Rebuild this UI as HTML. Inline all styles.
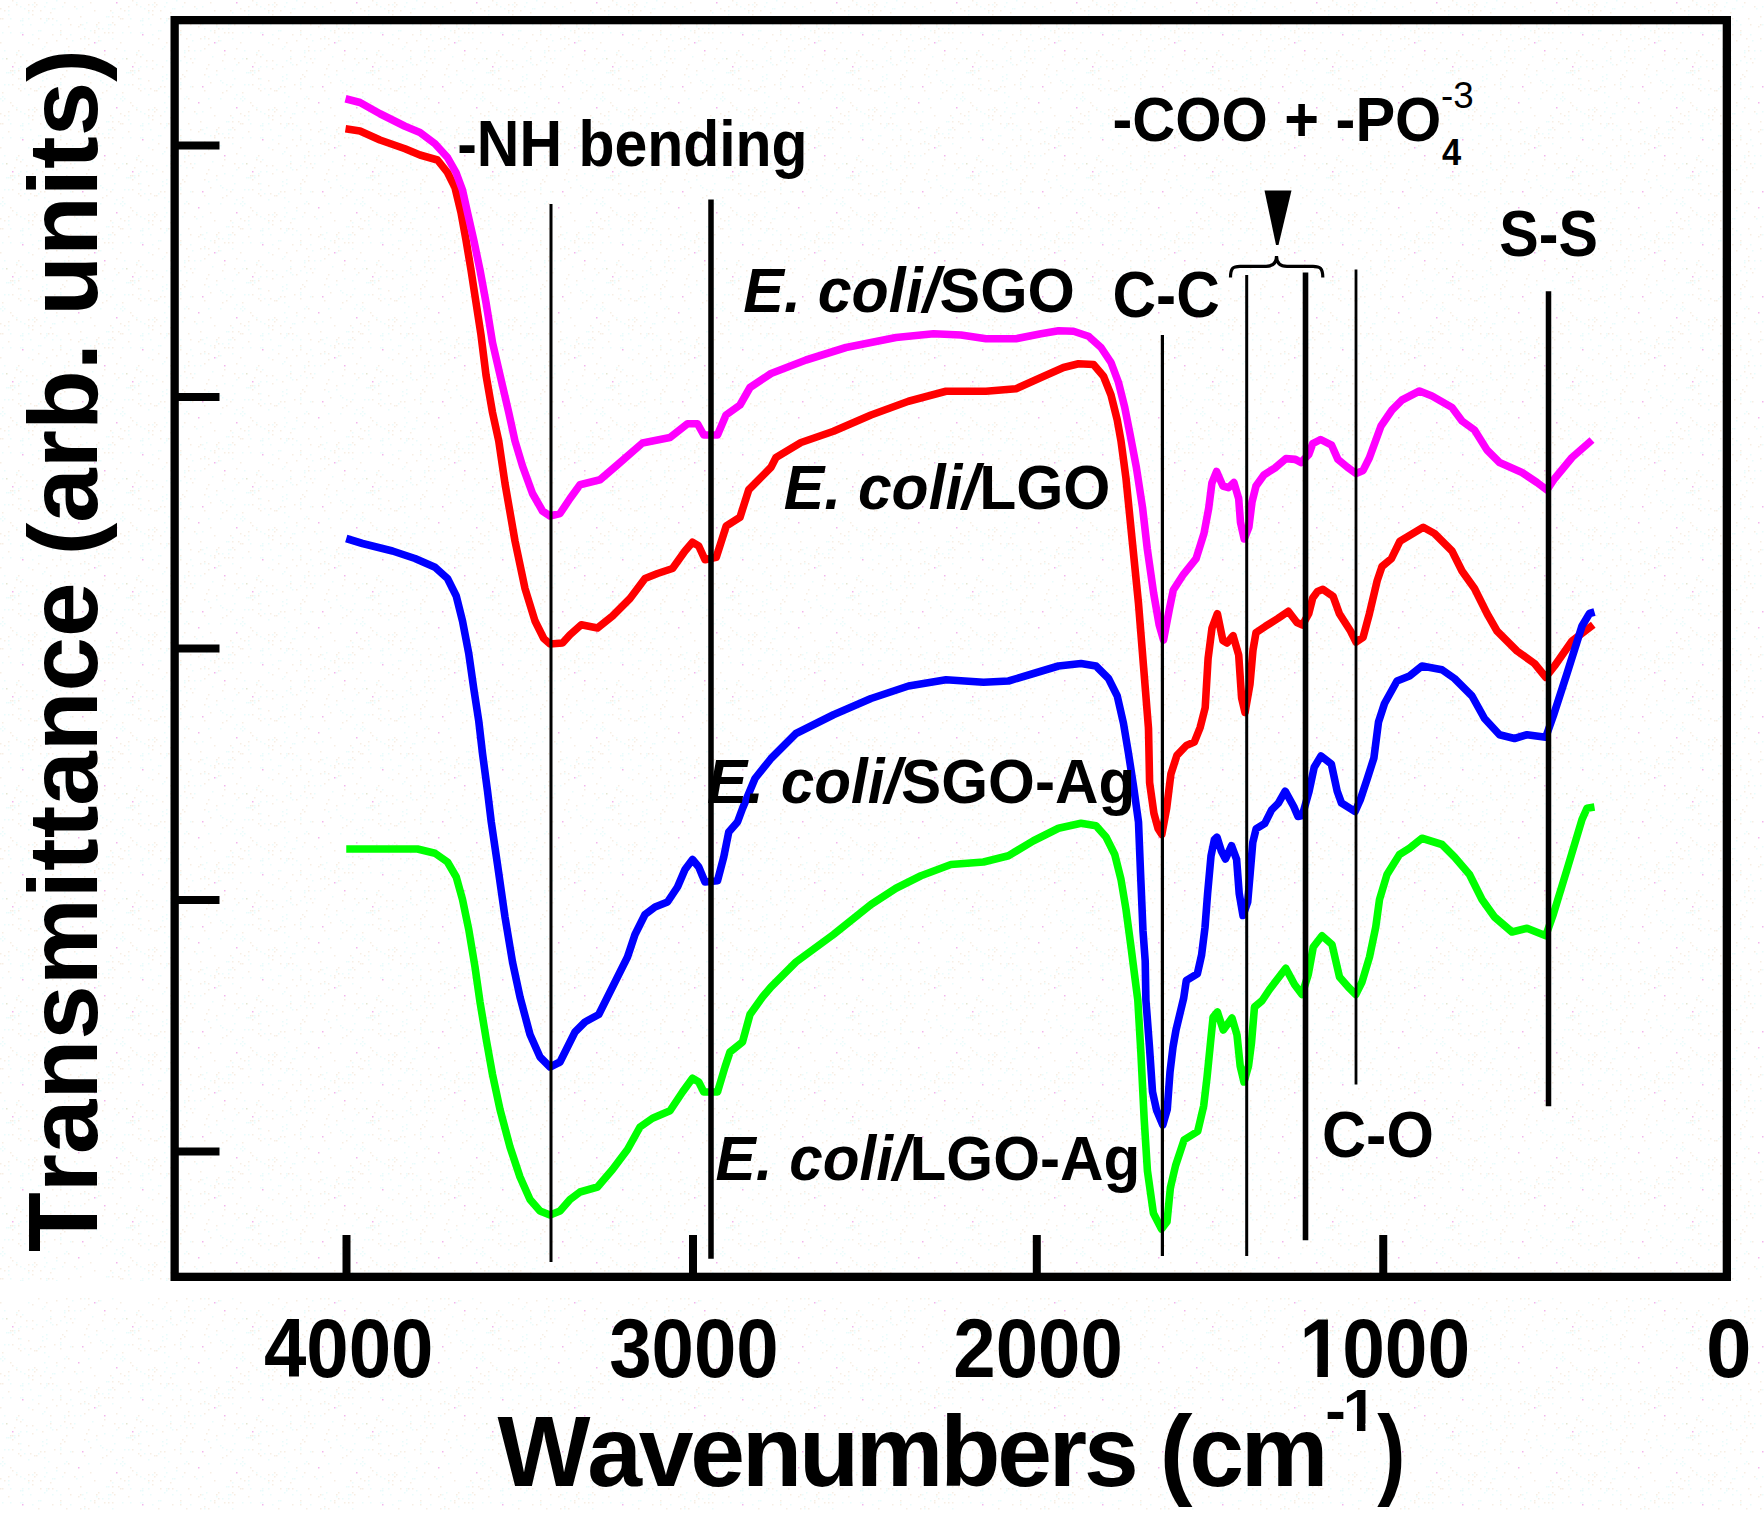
<!DOCTYPE html>
<html lang="en"><head><meta charset="utf-8"><title>FTIR spectra</title>
<style>html,body{margin:0;padding:0;background:#fff;}body{width:1764px;height:1524px;overflow:hidden;}svg{display:block;}text{font-family:'Liberation Sans', Arial, Helvetica, sans-serif;fill:#000;font-kerning:none;}.b{font-weight:bold;}.bi{font-weight:bold;font-style:italic;}</style></head><body>
<svg width="1764" height="1524" viewBox="0 0 1764 1524">
<defs><pattern id="dither" width="120" height="105" patternUnits="userSpaceOnUse"><rect x="40" y="18" width="1.5" height="1.5" fill="#f7eee3"/><rect x="82" y="6" width="1.5" height="1.5" fill="#e9fcfc"/><rect x="104" y="68" width="1.5" height="1.5" fill="#e9fcfc"/><rect x="46" y="74" width="1.5" height="1.5" fill="#e9fcfc"/><rect x="116" y="64" width="1.5" height="1.5" fill="#e9fcfc"/><rect x="4" y="10" width="1.5" height="1.5" fill="#f7eee3"/><rect x="52" y="8" width="1.5" height="1.5" fill="#e9fcfc"/><rect x="10" y="70" width="1.5" height="1.5" fill="#f7eee3"/><rect x="6" y="72" width="1.5" height="1.5" fill="#e9fcfc"/><rect x="28" y="80" width="1.5" height="1.5" fill="#f7eee3"/><rect x="74" y="6" width="1.5" height="1.5" fill="#f7eee3"/><rect x="74" y="50" width="1.5" height="1.5" fill="#e9fcfc"/><rect x="28" y="4" width="1.5" height="1.5" fill="#f7eee3"/><rect x="108" y="16" width="1.5" height="1.5" fill="#e9fcfc"/><rect x="52" y="18" width="1.5" height="1.5" fill="#f7eee3"/><rect x="14" y="72" width="1.5" height="1.5" fill="#e9fcfc"/><rect x="70" y="86" width="1.5" height="1.5" fill="#e9fcfc"/><rect x="12" y="74" width="1.5" height="1.5" fill="#f7eee3"/><rect x="80" y="24" width="1.5" height="1.5" fill="#f7eee3"/><rect x="12" y="70" width="1.5" height="1.5" fill="#f7eee3"/><rect x="8" y="72" width="1.5" height="1.5" fill="#e9fcfc"/><rect x="78" y="26" width="1.5" height="1.5" fill="#f7eee3"/><rect x="86" y="68" width="1.5" height="1.5" fill="#f7eee3"/><rect x="98" y="40" width="1.5" height="1.5" fill="#f7eee3"/><rect x="74" y="58" width="1.5" height="1.5" fill="#e9fcfc"/><rect x="38" y="30" width="1.5" height="1.5" fill="#e9fcfc"/><rect x="88" y="98" width="1.5" height="1.5" fill="#e9fcfc"/><rect x="10" y="72" width="1.5" height="1.5" fill="#e9fcfc"/><rect x="66" y="62" width="1.5" height="1.5" fill="#e9fcfc"/><rect x="92" y="56" width="1.5" height="1.5" fill="#e9fcfc"/><rect x="76" y="8" width="1.5" height="1.5" fill="#e9fcfc"/><rect x="64" y="52" width="1.5" height="1.5" fill="#e9fcfc"/><rect x="96" y="42" width="1.5" height="1.5" fill="#e9fcfc"/><rect x="118" y="62" width="1.5" height="1.5" fill="#f7eee3"/><rect x="4" y="84" width="1.5" height="1.5" fill="#e9fcfc"/><rect x="96" y="70" width="1.5" height="1.5" fill="#f7eee3"/><rect x="100" y="40" width="1.5" height="1.5" fill="#e9fcfc"/><rect x="88" y="44" width="1.5" height="1.5" fill="#f7eee3"/><rect x="62" y="74" width="1.5" height="1.5" fill="#f7eee3"/><rect x="8" y="10" width="1.5" height="1.5" fill="#e9fcfc"/><rect x="60" y="88" width="1.5" height="1.5" fill="#f7eee3"/><rect x="8" y="6" width="1.5" height="1.5" fill="#f7eee3"/><rect x="88" y="38" width="1.5" height="1.5" fill="#f7eee3"/><rect x="72" y="86" width="1.5" height="1.5" fill="#f7eee3"/><rect x="36" y="90" width="1.5" height="1.5" fill="#f7eee3"/><rect x="112" y="84" width="1.5" height="1.5" fill="#e9fcfc"/><rect x="2" y="58" width="1.5" height="1.5" fill="#e9fcfc"/><rect x="20" y="78" width="1.5" height="1.5" fill="#e9fcfc"/><rect x="62" y="6" width="1.5" height="1.5" fill="#e9fcfc"/><rect x="98" y="36" width="1.5" height="1.5" fill="#e9fcfc"/><rect x="94" y="30" width="1.5" height="1.5" fill="#f7eee3"/><rect x="50" y="62" width="1.5" height="1.5" fill="#e9fcfc"/><rect x="20" y="56" width="1.5" height="1.5" fill="#f7eee3"/><rect x="70" y="34" width="1.5" height="1.5" fill="#e9fcfc"/><rect x="104" y="54" width="1.5" height="1.5" fill="#f7eee3"/><rect x="34" y="90" width="1.5" height="1.5" fill="#f7eee3"/><rect x="44" y="86" width="1.5" height="1.5" fill="#f7eee3"/><rect x="28" y="18" width="1.5" height="1.5" fill="#e9fcfc"/><rect x="22" y="18" width="1.5" height="1.5" fill="#e9fcfc"/><rect x="84" y="28" width="1.5" height="1.5" fill="#e9fcfc"/><rect x="22" y="32" width="1.5" height="1.5" fill="#e9fcfc"/><rect x="0" y="18" width="1.5" height="1.5" fill="#f7eee3"/><rect x="68" y="46" width="1.5" height="1.5" fill="#f7eee3"/><rect x="72" y="40" width="1.5" height="1.5" fill="#e9fcfc"/><rect x="88" y="64" width="1.5" height="1.5" fill="#f7eee3"/><rect x="82" y="86" width="1.5" height="1.5" fill="#f3b4ec"/><rect x="6" y="58" width="1.5" height="1.5" fill="#e3e6cf"/><rect x="110" y="86" width="1.5" height="1.5" fill="#f7eee3"/><rect x="50" y="50" width="1.5" height="1.5" fill="#f7eee3"/><rect x="50" y="12" width="1.5" height="1.5" fill="#f7eee3"/><rect x="80" y="50" width="1.5" height="1.5" fill="#e9fcfc"/><rect x="24" y="8" width="1.5" height="1.5" fill="#e9fcfc"/><rect x="56" y="20" width="1.5" height="1.5" fill="#e9fcfc"/><rect x="42" y="76" width="1.5" height="1.5" fill="#e9fcfc"/><rect x="12" y="0" width="1.5" height="1.5" fill="#f7eee3"/><rect x="18" y="68" width="1.5" height="1.5" fill="#e9fcfc"/><rect x="46" y="78" width="1.5" height="1.5" fill="#e9fcfc"/><rect x="8" y="26" width="1.5" height="1.5" fill="#f7eee3"/><rect x="48" y="18" width="1.5" height="1.5" fill="#f7eee3"/><rect x="32" y="44" width="1.5" height="1.5" fill="#f7eee3"/><rect x="46" y="60" width="1.5" height="1.5" fill="#e9fcfc"/><rect x="14" y="62" width="1.5" height="1.5" fill="#f7eee3"/><rect x="60" y="60" width="1.5" height="1.5" fill="#e9fcfc"/><rect x="10" y="18" width="1.5" height="1.5" fill="#e9fcfc"/><rect x="94" y="42" width="1.5" height="1.5" fill="#f3b4ec"/><rect x="32" y="60" width="1.5" height="1.5" fill="#f7eee3"/><rect x="20" y="66" width="1.5" height="1.5" fill="#e9fcfc"/><rect x="26" y="66" width="1.5" height="1.5" fill="#e9fcfc"/><rect x="18" y="88" width="1.5" height="1.5" fill="#f7eee3"/><rect x="116" y="2" width="1.5" height="1.5" fill="#f3b4ec"/><rect x="66" y="38" width="1.5" height="1.5" fill="#f7eee3"/><rect x="110" y="10" width="1.5" height="1.5" fill="#f7eee3"/><rect x="108" y="32" width="1.5" height="1.5" fill="#f7eee3"/><rect x="46" y="20" width="1.5" height="1.5" fill="#e9fcfc"/><rect x="98" y="28" width="1.5" height="1.5" fill="#f7eee3"/><rect x="68" y="98" width="1.5" height="1.5" fill="#f7eee3"/><rect x="42" y="80" width="1.5" height="1.5" fill="#e9fcfc"/><rect x="78" y="102" width="1.5" height="1.5" fill="#f3b4ec"/><rect x="108" y="24" width="1.5" height="1.5" fill="#e9fcfc"/><rect x="104" y="50" width="1.5" height="1.5" fill="#f3b4ec"/><rect x="102" y="28" width="1.5" height="1.5" fill="#e9fcfc"/><rect x="44" y="92" width="1.5" height="1.5" fill="#e9fcfc"/><rect x="2" y="100" width="1.5" height="1.5" fill="#e9fcfc"/><rect x="60" y="32" width="1.5" height="1.5" fill="#e9fcfc"/><rect x="88" y="76" width="1.5" height="1.5" fill="#e9fcfc"/><rect x="56" y="102" width="1.5" height="1.5" fill="#f7eee3"/><rect x="44" y="46" width="1.5" height="1.5" fill="#e9fcfc"/><rect x="28" y="12" width="1.5" height="1.5" fill="#e9fcfc"/><rect x="60" y="24" width="1.5" height="1.5" fill="#e9fcfc"/><rect x="26" y="60" width="1.5" height="1.5" fill="#f7eee3"/><rect x="114" y="78" width="1.5" height="1.5" fill="#e9fcfc"/><rect x="60" y="82" width="1.5" height="1.5" fill="#e9fcfc"/><rect x="102" y="82" width="1.5" height="1.5" fill="#e9fcfc"/><rect x="106" y="84" width="1.5" height="1.5" fill="#e9fcfc"/><rect x="116" y="48" width="1.5" height="1.5" fill="#f7eee3"/><rect x="96" y="24" width="1.5" height="1.5" fill="#f7eee3"/><rect x="112" y="22" width="1.5" height="1.5" fill="#f7eee3"/><rect x="100" y="80" width="1.5" height="1.5" fill="#e9fcfc"/><rect x="10" y="102" width="1.5" height="1.5" fill="#f7eee3"/><rect x="50" y="58" width="1.5" height="1.5" fill="#f7eee3"/><rect x="94" y="10" width="1.5" height="1.5" fill="#f7eee3"/><rect x="20" y="20" width="1.5" height="1.5" fill="#e9fcfc"/><rect x="2" y="18" width="1.5" height="1.5" fill="#f7eee3"/><rect x="114" y="58" width="1.5" height="1.5" fill="#f7eee3"/><rect x="18" y="78" width="1.5" height="1.5" fill="#f7eee3"/><rect x="60" y="84" width="1.5" height="1.5" fill="#e9fcfc"/><rect x="18" y="70" width="1.5" height="1.5" fill="#f7eee3"/><rect x="16" y="2" width="1.5" height="1.5" fill="#e9fcfc"/><rect x="102" y="92" width="1.5" height="1.5" fill="#f7eee3"/><rect x="12" y="66" width="1.5" height="1.5" fill="#f3b4ec"/><rect x="118" y="16" width="1.5" height="1.5" fill="#f7eee3"/><rect x="110" y="24" width="1.5" height="1.5" fill="#e9fcfc"/><rect x="2" y="32" width="1.5" height="1.5" fill="#e9fcfc"/><rect x="36" y="64" width="1.5" height="1.5" fill="#e9fcfc"/><rect x="96" y="74" width="1.5" height="1.5" fill="#e9fcfc"/><rect x="32" y="68" width="1.5" height="1.5" fill="#f7eee3"/><rect x="106" y="16" width="1.5" height="1.5" fill="#e9fcfc"/><rect x="116" y="94" width="1.5" height="1.5" fill="#e9fcfc"/><rect x="84" y="74" width="1.5" height="1.5" fill="#f7eee3"/><rect x="52" y="64" width="1.5" height="1.5" fill="#e9fcfc"/><rect x="68" y="18" width="1.5" height="1.5" fill="#f7eee3"/><rect x="64" y="2" width="1.5" height="1.5" fill="#f7eee3"/><rect x="98" y="22" width="1.5" height="1.5" fill="#f7eee3"/><rect x="0" y="98" width="1.5" height="1.5" fill="#e9fcfc"/><rect x="60" y="78" width="1.5" height="1.5" fill="#f7eee3"/><rect x="14" y="70" width="1.5" height="1.5" fill="#e9fcfc"/><rect x="40" y="86" width="1.5" height="1.5" fill="#f7eee3"/><rect x="66" y="70" width="1.5" height="1.5" fill="#f7eee3"/><rect x="100" y="98" width="1.5" height="1.5" fill="#e9fcfc"/><rect x="112" y="70" width="1.5" height="1.5" fill="#e9fcfc"/><rect x="30" y="24" width="1.5" height="1.5" fill="#e9fcfc"/><rect x="4" y="98" width="1.5" height="1.5" fill="#e9fcfc"/><rect x="64" y="56" width="1.5" height="1.5" fill="#f7eee3"/><rect x="2" y="96" width="1.5" height="1.5" fill="#e9fcfc"/><rect x="56" y="40" width="1.5" height="1.5" fill="#f7eee3"/><rect x="64" y="76" width="1.5" height="1.5" fill="#f7eee3"/><rect x="24" y="88" width="1.5" height="1.5" fill="#e9fcfc"/><rect x="56" y="64" width="1.5" height="1.5" fill="#f7eee3"/><rect x="102" y="60" width="1.5" height="1.5" fill="#f7eee3"/><rect x="30" y="88" width="1.5" height="1.5" fill="#f7eee3"/><rect x="112" y="32" width="1.5" height="1.5" fill="#f7eee3"/><rect x="114" y="24" width="1.5" height="1.5" fill="#f7eee3"/><rect x="16" y="52" width="1.5" height="1.5" fill="#e9fcfc"/><rect x="50" y="56" width="1.5" height="1.5" fill="#e9fcfc"/><rect x="8" y="84" width="1.5" height="1.5" fill="#e9fcfc"/><rect x="54" y="8" width="1.5" height="1.5" fill="#e9fcfc"/><rect x="84" y="38" width="1.5" height="1.5" fill="#e9fcfc"/><rect x="114" y="98" width="1.5" height="1.5" fill="#e9fcfc"/><rect x="90" y="82" width="1.5" height="1.5" fill="#f7eee3"/><rect x="46" y="18" width="1.5" height="1.5" fill="#e9fcfc"/><rect x="112" y="16" width="1.5" height="1.5" fill="#f7eee3"/><rect x="28" y="94" width="1.5" height="1.5" fill="#e9fcfc"/><rect x="20" y="84" width="1.5" height="1.5" fill="#e9fcfc"/><rect x="20" y="90" width="1.5" height="1.5" fill="#f7eee3"/><rect x="64" y="50" width="1.5" height="1.5" fill="#e9fcfc"/><rect x="52" y="24" width="1.5" height="1.5" fill="#e9fcfc"/><rect x="40" y="10" width="1.5" height="1.5" fill="#f7eee3"/><rect x="46" y="2" width="1.5" height="1.5" fill="#e9fcfc"/><rect x="70" y="58" width="1.5" height="1.5" fill="#f7eee3"/><rect x="90" y="2" width="1.5" height="1.5" fill="#f7eee3"/><rect x="42" y="66" width="1.5" height="1.5" fill="#f7eee3"/><rect x="8" y="14" width="1.5" height="1.5" fill="#e9fcfc"/><rect x="112" y="12" width="1.5" height="1.5" fill="#e9fcfc"/><rect x="32" y="34" width="1.5" height="1.5" fill="#e9fcfc"/><rect x="22" y="34" width="1.5" height="1.5" fill="#f3b4ec"/><rect x="16" y="54" width="1.5" height="1.5" fill="#f7eee3"/><rect x="104" y="32" width="1.5" height="1.5" fill="#f7eee3"/><rect x="72" y="62" width="1.5" height="1.5" fill="#f7eee3"/><rect x="34" y="6" width="1.5" height="1.5" fill="#f7eee3"/><rect x="22" y="54" width="1.5" height="1.5" fill="#e9fcfc"/><rect x="34" y="2" width="1.5" height="1.5" fill="#f7eee3"/><rect x="32" y="10" width="1.5" height="1.5" fill="#f7eee3"/><rect x="108" y="28" width="1.5" height="1.5" fill="#e9fcfc"/><rect x="32" y="14" width="1.5" height="1.5" fill="#f7eee3"/><rect x="0" y="42" width="1.5" height="1.5" fill="#f7eee3"/><rect x="52" y="34" width="1.5" height="1.5" fill="#f7eee3"/><rect x="16" y="4" width="1.5" height="1.5" fill="#f7eee3"/><rect x="90" y="30" width="1.5" height="1.5" fill="#e9fcfc"/><rect x="20" y="32" width="1.5" height="1.5" fill="#e9fcfc"/><rect x="22" y="24" width="1.5" height="1.5" fill="#e9fcfc"/><rect x="80" y="38" width="1.5" height="1.5" fill="#f7eee3"/><rect x="96" y="26" width="1.5" height="1.5" fill="#e9fcfc"/><rect x="86" y="22" width="1.5" height="1.5" fill="#e9fcfc"/><rect x="44" y="102" width="1.5" height="1.5" fill="#e9fcfc"/><rect x="32" y="4" width="1.5" height="1.5" fill="#e9fcfc"/><rect x="2" y="92" width="1.5" height="1.5" fill="#f7eee3"/><rect x="70" y="24" width="1.5" height="1.5" fill="#f7eee3"/><rect x="60" y="30" width="1.5" height="1.5" fill="#f7eee3"/><rect x="12" y="84" width="1.5" height="1.5" fill="#f7eee3"/><rect x="54" y="84" width="1.5" height="1.5" fill="#f7eee3"/><rect x="68" y="50" width="1.5" height="1.5" fill="#f7eee3"/><rect x="38" y="88" width="1.5" height="1.5" fill="#e9fcfc"/><rect x="28" y="42" width="1.5" height="1.5" fill="#e9fcfc"/><rect x="106" y="90" width="1.5" height="1.5" fill="#f7eee3"/><rect x="80" y="16" width="1.5" height="1.5" fill="#f7eee3"/><rect x="44" y="6" width="1.5" height="1.5" fill="#e9fcfc"/><rect x="0" y="8" width="1.5" height="1.5" fill="#f7eee3"/><rect x="94" y="32" width="1.5" height="1.5" fill="#f7eee3"/><rect x="20" y="6" width="1.5" height="1.5" fill="#e9fcfc"/><rect x="84" y="48" width="1.5" height="1.5" fill="#f7eee3"/><rect x="84" y="36" width="1.5" height="1.5" fill="#f7eee3"/><rect x="36" y="4" width="1.5" height="1.5" fill="#f7eee3"/><rect x="22" y="20" width="1.5" height="1.5" fill="#e9fcfc"/><rect x="56" y="0" width="1.5" height="1.5" fill="#e9fcfc"/><rect x="46" y="42" width="1.5" height="1.5" fill="#f7eee3"/><rect x="40" y="30" width="1.5" height="1.5" fill="#e9fcfc"/><rect x="112" y="38" width="1.5" height="1.5" fill="#e9fcfc"/><rect x="44" y="22" width="1.5" height="1.5" fill="#e9fcfc"/><rect x="42" y="48" width="1.5" height="1.5" fill="#e9fcfc"/><rect x="60" y="34" width="1.5" height="1.5" fill="#f7eee3"/><rect x="82" y="24" width="1.5" height="1.5" fill="#e9fcfc"/><rect x="64" y="98" width="1.5" height="1.5" fill="#e9fcfc"/><rect x="10" y="32" width="1.5" height="1.5" fill="#e9fcfc"/><rect x="18" y="50" width="1.5" height="1.5" fill="#f7eee3"/><rect x="4" y="50" width="1.5" height="1.5" fill="#e9fcfc"/><rect x="38" y="38" width="1.5" height="1.5" fill="#f7eee3"/><rect x="28" y="10" width="1.5" height="1.5" fill="#f7eee3"/><rect x="66" y="96" width="1.5" height="1.5" fill="#e9fcfc"/><rect x="84" y="90" width="1.5" height="1.5" fill="#f7eee3"/><rect x="48" y="96" width="1.5" height="1.5" fill="#e9fcfc"/></pattern></defs>
<rect x="0" y="0" width="1764" height="1524" fill="#ffffff"/>
<rect x="0" y="0" width="1764" height="1281" fill="url(#dither)"/>
<rect x="0" y="1298" width="1764" height="212" fill="url(#dither)"/>
<polyline id="red" points="345.5,128.75 360,131 380,140 405,148.75 420,155 437.5,160 447.5,172.5 455,187.5 461,212.5 466,240 471,270 476,302.5 481,335 486,375 492.5,412.5 498.75,441 505,483.5 515,541 525,588.5 535,621 543.75,638.5 550,644 562.5,643 570,634.75 581.25,624.75 597.5,628 612.5,616 630,598.5 645,578.5 657.5,573.5 672.5,568.5 685,551 692.5,542.25 698.75,546 705,559.75 716.25,557.25 726.25,526 740,517.25 748.75,489.75 771,467.25 776,457.5 801,442.5 833.5,431.25 871,415 908.5,401.25 946,391.25 986,391.25 1016,388.75 1041,377.5 1063.5,367.5 1078.5,363.75 1093.5,364.5 1103.5,376.25 1111,395 1117.25,420 1121,441 1126,478.5 1132.25,541 1138.5,603.5 1143.5,666 1148.5,728.5 1149.6,782.6 1153.9,813.3 1158.1,828.7 1161.8,834.5 1166.7,808 1170.9,774 1176.9,755.4 1186.3,745.5 1194.3,742.1 1200.2,727.3 1205.2,707.6 1208.1,658.4 1212,628 1217.4,613.7 1222.9,640.5 1227,643 1233.1,635.7 1238.7,655 1241.6,697.8 1245,712.5 1250,684 1253,650 1256,632.6 1265.4,626.3 1278,618.4 1288.3,611.3 1296.9,622.5 1302.5,625 1308.7,613.7 1312.7,598 1317.5,591.5 1322.9,589.3 1333.1,596.4 1339.4,613.7 1350.5,631 1356,642 1363.1,637.3 1369.4,613.7 1377.2,580.6 1382,566.5 1391.4,558.6 1399.9,541.3 1423.25,527.25 1434.5,533.5 1452,551 1462,571 1474.5,588.5 1487,613.5 1497,631 1517,651 1534.5,663.5 1545.75,677.25 1554.5,666 1572,641 1593.25,624.75" fill="none" stroke="#ff0000" stroke-width="7.6" stroke-linejoin="round" stroke-linecap="butt"/>
<polyline id="green" points="346.25,849 417.5,849 435,853.25 447.5,862 456.25,877 462.5,899.5 468.75,929.5 475,967 480,1002 486.25,1039.5 492.5,1074.5 500,1109.5 510,1147 520,1177 530,1199.5 540,1211 550,1215 560,1211 570,1199.5 580,1192 597.5,1187 612.5,1169.5 627.5,1149.5 640,1127 652.5,1118.25 670,1110.75 682.5,1092 692.5,1078.25 698.75,1082 703.75,1092 717.5,1092 725,1067 730,1052 742.5,1042 750,1014.5 762.5,997 771,987 796,962 833.5,934.5 871,904.5 896,888.25 921,875.75 951,864.5 983.5,862 1008.5,855.75 1033.5,840.75 1058.5,828.25 1081,823.25 1096,825.75 1106,837 1114.75,854.5 1121,879.5 1126,909.5 1131,947 1134.7,976 1137.8,1000 1140.8,1051 1144.2,1119.5 1147.4,1170.6 1153.4,1213.3 1161.5,1229 1167,1221.8 1170.4,1187.7 1175.6,1165.5 1184.1,1139.9 1197.7,1131.4 1203.7,1105.8 1207.1,1076.8 1210.5,1042.7 1213.1,1017.1 1217.4,1012 1223.3,1030 1232,1018 1237,1035 1240.2,1066 1244,1082 1248.5,1066 1251.5,1042.7 1254.5,1007 1262,1000.75 1269.5,989.5 1285.75,968.25 1294.5,984.5 1302,994.5 1308.25,974.5 1313.25,947 1322,935.75 1332,944.5 1339.5,977 1348.25,987 1355.75,994.5 1362,982 1369.5,957 1375.75,927 1379.5,899.5 1387,874.5 1399.5,854.5 1409.5,848.25 1422,838.25 1442,844.5 1454.5,857 1469.5,874.5 1482,899.5 1494.5,917 1512,932 1527,928.25 1545.75,935.75 1553.25,914.5 1567,869.5 1582,819.5 1587,808.25 1594.5,807" fill="none" stroke="#00ff00" stroke-width="7.6" stroke-linejoin="round" stroke-linecap="butt"/>
<polyline id="blue" points="346.25,538.5 362.5,543.5 392.5,551 415,558.5 435,567.25 447.5,578.5 456.25,596 462.5,621 468.75,653.5 473.75,688.5 478.75,721 482.5,753.5 487.5,791 491.25,822 497.5,864.5 505,917 512.5,962 520,997 530,1034.5 540,1057 550,1067 560,1062 567.5,1047 575,1032 585,1022 598.75,1014.5 607.5,997 617.5,977 627.5,957 635,934.5 645,914.5 655,907 667.5,902 677.5,887 685,869.5 692.5,859.5 698.75,867 705,882 717.5,880.75 723.75,857 728.75,832 737.5,822 742.5,808.5 755,778.5 771,758.5 796,733.5 833.5,714.75 871,698.5 908.5,686 946,679.75 983.5,682.25 1008.5,681 1033.5,673.5 1058.5,666 1081,663.5 1096,666 1108.5,678.5 1117.25,696 1123.5,723.5 1128.5,753.5 1133.5,786 1138.5,822 1140.5,872 1143,931 1145.2,961 1145.9,1000 1149.4,1046 1152.5,1091.7 1156.5,1110 1162.8,1125 1167.25,1109.5 1170,1072 1173,1047 1176,1030 1183.7,998 1186.3,980.5 1197.4,973.7 1201.6,954.9 1205,927.6 1207.6,893.5 1211,856 1214.4,839.5 1217,837.2 1221.3,850.9 1225.5,859 1231.5,845.7 1236.6,859.4 1239.2,893.5 1243,915.5 1247.7,902 1250.2,873 1252.8,842.3 1256.2,828.7 1264.7,823.6 1271.6,809.9 1278.4,803.1 1285.2,791.2 1293.7,806.5 1298,816.5 1302.3,815.5 1309.1,791.2 1314.2,767.3 1321,756 1331.3,763.9 1337.2,791.2 1341.5,803.1 1355.1,811.5 1360.3,799.7 1367.1,779.2 1373.9,758 1378.5,722 1384.5,703.5 1397,681 1409.5,676 1422,666 1442,669.75 1454.5,678.5 1472,696 1484.5,718.5 1499.5,734.75 1514.5,738.5 1527,734.75 1545.75,737.25 1553.25,716 1567,673.5 1582,626 1589.5,613.5 1594.5,612" fill="none" stroke="#0000ff" stroke-width="7.6" stroke-linejoin="round" stroke-linecap="butt"/>
<polyline id="magenta" points="345.5,98.75 360,102.5 380,113.75 405,126.25 420,132.5 435,143.75 447.5,157.5 456,172.5 462.5,190 467.5,212.5 473.75,240 480,270 486,302.5 492.5,342.5 500,375 508.75,412.5 515,441 522.5,466 532.5,493.5 542.5,511 550,516 560,513.5 570,498.5 580,484.75 600,479.75 617.5,464.75 642.5,443 670,437.5 687.5,423.75 697.5,423.75 703.75,435 717.5,435 726,415 740,405 750,387.5 771,373.5 806,360 846,347.5 896,337.5 933.5,333.75 961,335 986,338.75 1016,338.75 1041,333.75 1058.5,330.75 1073.5,331.25 1088.5,336.25 1101,347.5 1111,362.5 1118.5,382.5 1124.75,407.5 1130,434 1136.3,467 1142.6,508 1147.3,549 1153.6,593 1159.1,624.7 1163.5,640 1169.4,609 1173.3,590 1183.5,574.3 1196.1,558.6 1204,533.4 1208.7,508.2 1211.9,483 1216.6,471.5 1222.9,486 1228.4,487.7 1233.9,482.5 1238.7,498.7 1240.5,522.4 1244.2,539 1248.9,527 1252,502 1256,486 1263.9,475 1274.9,468 1285.9,458.6 1295.4,459.4 1300.9,462.5 1308.7,454.6 1312.7,443.6 1320.6,439.5 1331.6,445.2 1337.9,459.4 1347.3,467.2 1356,473.5 1363.1,470.4 1369.4,457.8 1375.7,440.5 1381,426 1392,410 1402,400 1419.5,391 1432,396 1452,407.5 1462,421 1474.5,430 1487,450 1499.5,462.5 1522,472.5 1537,482.5 1547,490 1554.5,478.75 1572,457.5 1592,440" fill="none" stroke="#ff00ff" stroke-width="7.6" stroke-linejoin="round" stroke-linecap="butt"/>
<line x1="551.0" y1="204" x2="551.0" y2="1262" stroke="#000" stroke-width="3"/>
<line x1="711.0" y1="199.5" x2="711.0" y2="1258.7" stroke="#000" stroke-width="5.5"/>
<line x1="1162.4" y1="335" x2="1162.4" y2="1256" stroke="#000" stroke-width="3.2"/>
<line x1="1246.7" y1="275" x2="1246.7" y2="1256" stroke="#000" stroke-width="3"/>
<line x1="1305.5" y1="272.5" x2="1305.5" y2="1240.3" stroke="#000" stroke-width="5.6"/>
<line x1="1356.0" y1="269.5" x2="1356.0" y2="1084.5" stroke="#000" stroke-width="2.8"/>
<line x1="1548.5" y1="291.2" x2="1548.5" y2="1106.3" stroke="#000" stroke-width="5.5"/>
<rect x="174.65" y="20.15" width="1552.2" height="1256.7" fill="none" stroke="#000" stroke-width="8.3"/>
<line x1="178" y1="145.4" x2="219.5" y2="145.4" stroke="#000" stroke-width="8"/>
<line x1="178" y1="396.9" x2="219.5" y2="396.9" stroke="#000" stroke-width="8"/>
<line x1="178" y1="648.4" x2="219.5" y2="648.4" stroke="#000" stroke-width="8"/>
<line x1="178" y1="899.9" x2="219.5" y2="899.9" stroke="#000" stroke-width="8"/>
<line x1="178" y1="1151.5" x2="219.5" y2="1151.5" stroke="#000" stroke-width="8"/>
<line x1="346.5" y1="1235" x2="346.5" y2="1274" stroke="#000" stroke-width="8"/>
<line x1="693.0" y1="1235" x2="693.0" y2="1274" stroke="#000" stroke-width="8"/>
<line x1="1036.8" y1="1235" x2="1036.8" y2="1274" stroke="#000" stroke-width="8"/>
<line x1="1383.25" y1="1235" x2="1383.25" y2="1274" stroke="#000" stroke-width="8"/>
<text id="t4000" class="b" font-size="84" transform="translate(263.94,1377.3) scale(0.9074,1)">4000</text>
<text id="t3000" class="b" font-size="84" transform="translate(609.19,1377.3) scale(0.9066,1)">3000</text>
<text id="t2000" class="b" font-size="84" transform="translate(953.28,1377.3) scale(0.9072,1)">2000</text>
<text id="t1000" class="b" font-size="84" transform="translate(1299.43,1377.3) scale(0.9141,1)">1000</text>
<text id="t0" class="b" font-size="84" transform="translate(1706.08,1377.3) scale(0.9750,1)">0</text>
<text id="xlab" class="b" font-size="100" letter-spacing="-3.249" transform="translate(497.41,1485.5) scale(0.9850,1)">Wavenumbers (cm</text>
<text id="xsupm" class="b" font-size="59" transform="translate(1325.26,1431) scale(1.0485,1)">-</text>
<text id="xpar" class="b" font-size="100" transform="translate(1377.16,1485.5) scale(0.8495,1)">)</text>
<text id="nh" class="b" font-size="65.5" transform="translate(457.20,165.7) scale(0.9003,1)">-NH bending</text>
<text id="coo" class="b" font-size="62.5" transform="translate(1112.38,140.7) scale(0.9526,1)">-COO + -PO</text>
<text id="sup3" class="r" font-size="36.5" transform="translate(1441.03,108) scale(1.0082,1)">-3</text>
<text id="sub4" class="b" font-size="37.5" transform="translate(1442.05,165.2) scale(0.9200,1)">4</text>
<text id="cc" class="b" font-size="65" transform="translate(1112.55,317.2) scale(0.9283,1)">C-C</text>
<text id="ss" class="b" font-size="65" transform="translate(1499.30,255.7) scale(0.9099,1)">S-S</text>
<text id="co" class="b" font-size="65" transform="translate(1322.05,1157.4) scale(0.9389,1)">C-O</text>
<text id="l1" class="b" font-size="62.5" transform="translate(743.32,312.3) scale(0.9745,1)"><tspan class="bi">E. coli/</tspan>SGO</text>
<text id="l2" class="b" font-size="62.5" transform="translate(783.77,508.5) scale(0.9701,1)"><tspan class="bi">E. coli/</tspan>LGO</text>
<text id="l3" class="b" font-size="62.5" transform="translate(707.04,802.8) scale(0.9636,1)"><tspan class="bi">E. coli/</tspan>SGO-Ag</text>
<text id="l4" class="b" font-size="62.5" transform="translate(715.55,1180) scale(0.9632,1)"><tspan class="bi">E. coli/</tspan>LGO-Ag</text>
<text id="xsup1" class="b" font-size="59" transform="translate(1342.66,1431) scale(1.04,1)">1</text>
<rect class="mask" x="1345.02" y="1423.68" width="11.96" height="8.62" fill="#fff"/>
<rect class="mask" x="1365.40" y="1423.68" width="11.18" height="8.62" fill="#fff"/>
<rect class="mask" x="1302.77" y="1367.43" width="14.58" height="11.17" fill="#fff"/>
<rect class="mask" x="1327.89" y="1367.43" width="13.61" height="11.17" fill="#fff"/>
<text id="ylab" class="b" font-size="98" transform="translate(97,1252.00) rotate(-90) scale(0.9996,1)">Transmittance (arb. units)</text>
<polygon points="1264.5,190.5 1291.5,190.5 1278.5,245 1276,245" fill="#000"/>
<path d="M1230.5,277.5 C1230.5,268 1233,266.3 1240,266.3 L1266,266.3 C1273,266.3 1276.5,263 1276.5,256 C1276.5,263 1280,266.3 1287,266.3 L1313,266.3 C1320,266.3 1322.8,268 1322.8,277.5" fill="none" stroke="#000" stroke-width="3.2"/>
</svg></body></html>
